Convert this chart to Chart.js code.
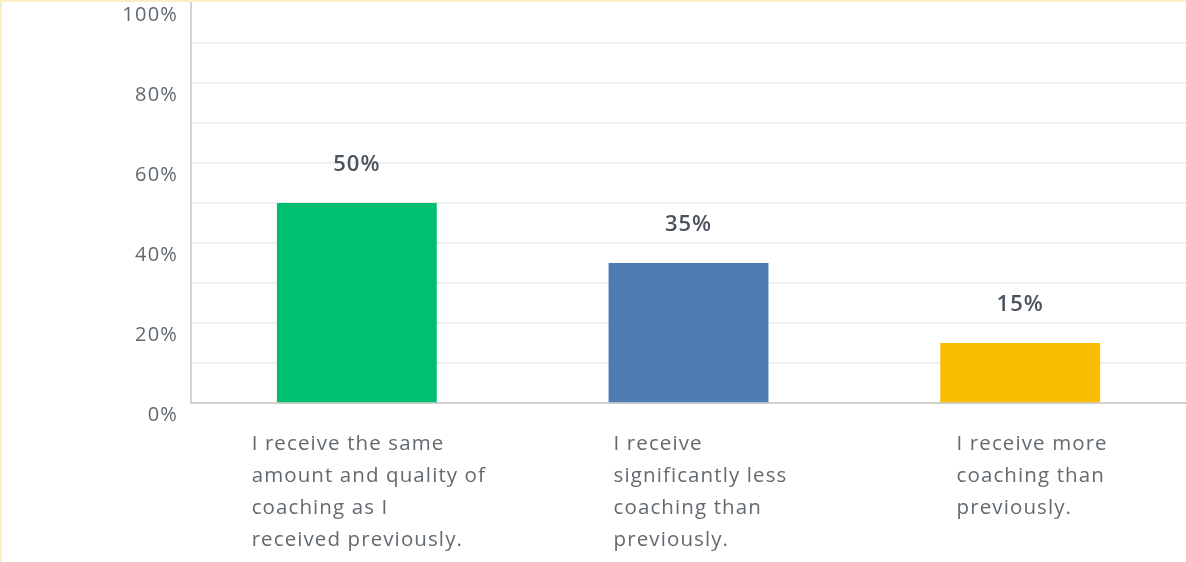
<!DOCTYPE html>
<html>
<head>
<meta charset="utf-8">
<script src="https://cdn.jsdelivr.net/npm/chart.js@4.4.1/dist/chart.umd.min.js"></script>
<style>
  html, body { margin: 0; padding: 0; background: #ffffff; }
  #wrap { position: relative; width: 1186px; height: 562px; overflow: hidden; }
  #frame { position: absolute; left: 0; top: 0; width: 1186px; height: 562px;
           border-left: 2px solid #fcefc4; border-top: 2px solid #fcefc4; box-sizing: border-box; pointer-events: none; }
</style>
</head>
<body>
<div id="wrap">
  <canvas id="c" width="1186" height="562"></canvas>
  <div id="frame"></div>
</div>
<script>
const categories = [
  ["I receive the same", "amount and quality of", "coaching as I", "received previously."],
  ["I receive", "significantly less", "coaching than", "previously."],
  ["I receive more", "coaching than", "previously."]
];
const values = [50, 35, 15];
const barColors = ["#00bf6f", "#507cb6", "#f9be00"];
const yTickLabels = { 0: "0%", 20: "20%", 40: "40%", 60: "60%", 80: "80%", 100: "100%" };

const FONT = "'Open Sans', sans-serif";

const spacingPlugin = {
  id: 'spacing',
  beforeInit(chart) { chart.ctx.letterSpacing = '1.2px'; },
  beforeLayout(chart) { chart.ctx.letterSpacing = '1.2px'; },
  beforeDraw(chart) { chart.ctx.letterSpacing = '1.2px'; }
};

const labelsPlugin = {
  id: 'customLabels',
  afterDatasetsDraw(chart) {
    const ctx = chart.ctx;
    const meta = chart.getDatasetMeta(0);
    ctx.save();
    ctx.letterSpacing = '1px';
    // value labels above bars
    ctx.font = "600 22px " + FONT;
    ctx.fillStyle = "#4a535c";
    ctx.textAlign = "center";
    ctx.textBaseline = "middle";
    meta.data.forEach((bar, i) => {
      ctx.fillText(values[i] + "%", bar.x, bar.y - 38);
    });
    // category labels (left-aligned blocks)
    const xs = chart.scales.x;
    ctx.letterSpacing = '1.1px';
    ctx.font = "20.5px " + FONT;
    ctx.fillStyle = "#62696f";
    ctx.textAlign = "left";
    ctx.textBaseline = "middle";
    categories.forEach((lines, i) => {
      const cx = xs.getPixelForValue(i);
      const maxW = Math.max(...lines.map(l => ctx.measureText(l).width));
      const x0 = cx - maxW / 2 + 12;
      lines.forEach((line, j) => {
        ctx.fillText(line, x0, xs.top + 41 + j * 32);
      });
    });
    ctx.restore();
  }
};

new Chart(document.getElementById('c'), {
  type: 'bar',
  data: {
    labels: categories.map(l => l.join(' ')),
    datasets: [{
      data: values,
      backgroundColor: barColors,
      borderWidth: 0,
      barPercentage: 0.482,
      categoryPercentage: 1.0
    }]
  },
  options: {
    responsive: false,
    animation: false,
    events: [],
    layout: { padding: { top: 3, left: 0, right: 0, bottom: 0 } },
    plugins: { legend: { display: false }, tooltip: { enabled: false } },
    scales: {
      x: {
        grid: { display: false },
        border: { display: true, color: '#cfcfcf', width: 2 },
        ticks: { display: false },
        afterFit(scale) { scale.height = 159; }
      },
      y: {
        min: 0, max: 100,
        ticks: {
          stepSize: 10,
          padding: 13,
          labelOffset: 12,
          color: '#5f6870',
          font: { family: FONT, size: 20 },
          callback: (v) => yTickLabels[v] !== undefined ? yTickLabels[v] : ''
        },
        grid: {
          drawTicks: false,
          lineWidth: 1.5,
          color: (ctx) => (ctx.tick && ctx.tick.value === 100) ? 'rgba(0,0,0,0)' : '#ebebeb'
        },
        border: { display: true, color: '#d4d4d4', width: 2 },
        afterFit(scale) { scale.width = 191; scale.paddingTop = 0; scale.paddingBottom = 0; }
      }
    }
  },
  plugins: [spacingPlugin, labelsPlugin]
});
</script>
</body>
</html>
